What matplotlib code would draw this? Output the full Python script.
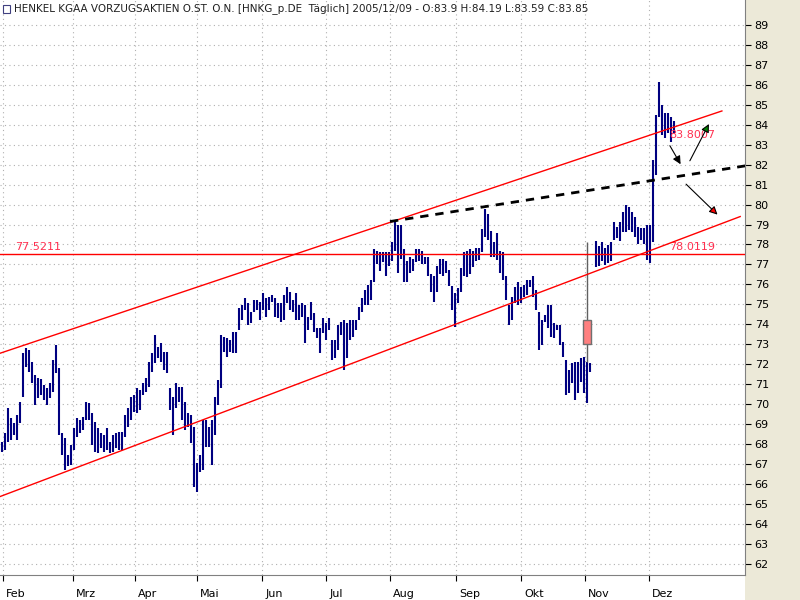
import matplotlib
matplotlib.use("Agg")
import matplotlib.pyplot as plt
from matplotlib.patches import Rectangle
import matplotlib.transforms as mtrans

highs = [68.12,68.54,69.8,69.3,69.05,69.45,70.1,72.55,72.8,72.7,72.1,71.45,71.3,71.25,70.95,70.8,71.05,72.2,72.95,71.8,
 68.55,68.3,67.45,67.95,68.8,69.3,69.2,69.35,70.1,70.05,69.55,69.1,68.8,68.55,68.45,68.8,68.1,68.45,68.55,68.6,
 68.6,69.45,69.8,70.35,70.45,70.8,70.7,71.05,71.3,72.1,72.55,73.45,72.85,73.05,72.6,72.6,70.8,70.35,71.05,70.85,
 70.85,70.1,69.55,69.45,68.85,67.05,67.45,69.2,69.2,68.85,69.2,70.35,71.2,73.45,73.35,73.3,73.2,73.6,
 73.6,74.8,74.95,75.3,75.05,74.6,75.2,75.2,75.1,75.55,75.3,75.35,75.45,75.3,75.05,75.05,75.45,75.85,75.6,75.2,
 75.55,74.95,75.05,74.95,74.35,75.1,74.55,73.8,73.8,74.3,74.05,74.3,73.2,73.2,73.95,74.1,74.2,74.05,74.2,74.2,
 74.2,74.85,75.3,75.7,75.95,76.2,77.75,77.65,77.6,77.6,77.6,77.6,78.1,79.15,79.0,79.0,77.75,77.15,77.35,77.25,
 77.75,77.75,77.65,77.35,77.35,76.5,76.4,76.9,77.25,77.25,77.15,76.7,75.9,75.55,
 75.8,76.8,77.6,77.65,77.75,77.65,77.8,77.8,78.8,79.8,79.55,78.7,78.1,78.6,77.65,77.6,76.4,74.95,75.35,75.85,
 76.1,75.85,75.95,76.2,76.2,76.4,75.7,74.6,74.2,74.45,74.95,74.95,74.05,73.95,73.95,73.1,72.2,71.7,72.05,72.1,
 72.1,72.3,72.35,72.1,72.05,
 78.1,
 78.15,77.9,78.1,77.8,77.95,78.1,79.15,78.9,79.15,79.65,80.0,79.9,79.65,79.4,78.9,78.85,78.85,
 79.0,79.0,82.25,84.5,86.15,85.0,84.6,84.6,84.4,84.19]
lows = [67.62,67.71,68.1,68.2,68.45,68.2,69.05,70.35,71.85,71.6,71.05,69.95,70.3,70.45,70.2,69.95,70.3,70.6,71.55,68.45,
 67.45,66.7,66.9,66.95,67.7,68.35,68.55,68.7,69.2,69.2,67.95,67.6,67.55,67.8,67.6,67.7,67.55,67.6,67.8,67.7,
 67.7,68.35,68.85,69.2,69.6,69.55,69.7,70.45,70.6,70.85,71.6,72.05,72.3,72.1,71.7,71.55,69.7,68.45,69.8,70.1,
 69.2,68.7,68.85,68.05,65.85,65.6,66.6,66.7,67.85,67.85,66.95,68.45,69.95,70.8,72.6,72.35,72.6,72.55,
 72.55,73.7,74.2,74.7,73.95,74.05,74.6,74.7,74.2,74.7,74.35,74.7,75.1,74.35,74.3,74.1,74.2,75.05,74.7,74.6,
 74.2,74.2,74.35,73.05,73.7,74.2,73.6,73.3,72.55,73.55,73.2,73.7,72.2,72.3,72.7,73.45,71.7,72.3,73.2,73.35,
 73.7,74.2,74.6,74.95,74.95,75.2,76.1,77.0,76.65,77.1,76.4,76.9,77.15,77.65,76.55,77.25,76.1,76.1,76.55,76.65,
 77.1,77.15,77.0,77.0,76.4,75.6,75.1,75.6,76.5,76.4,76.55,75.9,74.7,73.85,
 75.05,75.6,76.4,76.35,76.5,76.85,77.15,77.2,77.6,78.4,78.2,77.35,77.35,77.2,76.55,76.2,75.2,73.95,74.2,75.05,
 74.95,75.05,75.35,75.45,75.85,75.35,74.7,72.7,72.95,74.1,73.8,73.35,73.3,73.7,72.95,72.35,70.45,70.55,71.05,70.2,
 70.55,71.1,70.55,70.05,71.6,
 72.1,
 76.85,76.9,77.15,76.95,77.05,77.15,78.2,78.35,78.15,78.65,78.65,78.75,78.65,78.4,78.0,78.25,78.0,
 77.2,77.05,78.1,81.5,84.4,83.5,83.35,83.6,83.15,83.59]
candle_idx = 197
candle_body = (73.0, 74.2)

months = ["Feb","Mrz","Apr","Mai","Jun","Jul","Aug","Sep","Okt","Nov","Dez"]
month_pos = [0.43,23.8,44.4,65.1,86.8,108.1,129.4,151.4,173.1,194.4,215.8]
yticks = list(range(62, 90))

upper_line = ([-0.57, 240.0], [72.55, 84.69])
lower_line = ([-0.57, 246.1], [65.37, 79.40])
hline = 77.5211
dash_line = ([129.4, 246.1], [79.15, 81.9])

fig = plt.figure(figsize=(8, 6), dpi=100, facecolor="white")
fig.patches.append(Rectangle((745/800, 0), 55/800, 1, transform=fig.transFigure,
                             facecolor="#ECE9D8", edgecolor="none", zorder=-5))
ax = fig.add_axes([0, 25/600, 745/800, 575/600])
ax.set_facecolor("white")
ax.set_xlim(-0.57, 247.7)
ax.set_ylim(61.44, 90.25)

for m in month_pos:
    ax.axvline(m, color="#b0b0b0", ls=(0, (1, 3)), lw=0.8, zorder=0)
for t in yticks:
    ax.axhline(t, color="#b0b0b0", ls=(0, (1, 3)), lw=0.8, zorder=0)

for i, (h, l) in enumerate(zip(highs, lows)):
    if i == candle_idx:
        ax.vlines(i - 2, l, h, color="#606060", lw=1.0, zorder=2)
        ax.add_patch(Rectangle((i - 3.4, candle_body[0]), 2.8, candle_body[1] - candle_body[0],
                               facecolor="#FF8080", edgecolor="#707070", lw=1, zorder=3))
    else:
        ax.vlines(i, l, h, color="#000080", lw=1.5, zorder=2)

ax.plot(*upper_line, color="#FF0000", lw=1.0, zorder=4)
ax.plot(*lower_line, color="#FF0000", lw=1.0, zorder=4)
ax.axhline(hline, color="#FF0000", lw=1.0, zorder=4)
slope = (dash_line[1][1]-dash_line[1][0])/(dash_line[0][1]-dash_line[0][0])
ax.plot([dash_line[0][0], 248], [dash_line[1][0], dash_line[1][0] + slope*(248-dash_line[0][0])],
        color="black", lw=2, ls=(0, (3, 2.5)), zorder=4)

lab = "#FF3050"
ax.text(4.3, 77.62, "77.5211", color=lab, fontsize=8, va="bottom", ha="left")
ax.text(222.3, 77.6, "78.0119", color=lab, fontsize=8, va="bottom", ha="left")
ax.text(222.3, 83.5, "83.8007", color=lab, fontsize=8, va="center", ha="left")

arrows = [((222.2, 83.07), (226.7, 81.9), "black"),
          ((228.9, 82.07), (236.1, 84.16), "green"),
          ((227.4, 81.12), (239.2, 79.4), "red")]
for s, e, c in arrows:
    ax.annotate("", xy=e, xytext=s, zorder=5,
                arrowprops=dict(arrowstyle="-|>", color="black", lw=0.8,
                                mutation_scale=12, fc=c))

ax.yaxis.tick_right()
ax.set_yticks(yticks)
ax.set_yticklabels([str(t) for t in yticks], fontsize=8)
ax.tick_params(axis="y", direction="out", length=4, pad=3, color="black")
ax.set_xticks(month_pos)
ax.set_xticklabels(months, fontsize=8, ha="left")
ax.tick_params(axis="x", direction="out", length=4, pad=6)
off = mtrans.ScaledTranslation(3/100, 0, fig.dpi_scale_trans)
for lbl in ax.get_xticklabels():
    lbl.set_transform(lbl.get_transform() + off)
for sp in ["top", "left"]:
    ax.spines[sp].set_visible(False)
ax.spines["right"].set_color("#808080")
ax.spines["bottom"].set_color("#808080")

fig.text(14/800, 1 - 9/600,
         "HENKEL KGAA VORZUGSAKTIEN O.ST. O.N. [HNKG_p.DE  Täglich] 2005/12/09 - O:83.9 H:84.19 L:83.59 C:83.85",
         fontsize=7.5, va="center", ha="left", color="#202020")
fig.patches.append(Rectangle((3/800, 1 - 13/600), 7/800, 8/600, transform=fig.transFigure,
                             facecolor="white", edgecolor="#404080", lw=0.8))
fig.savefig("out.png", dpi=100)
